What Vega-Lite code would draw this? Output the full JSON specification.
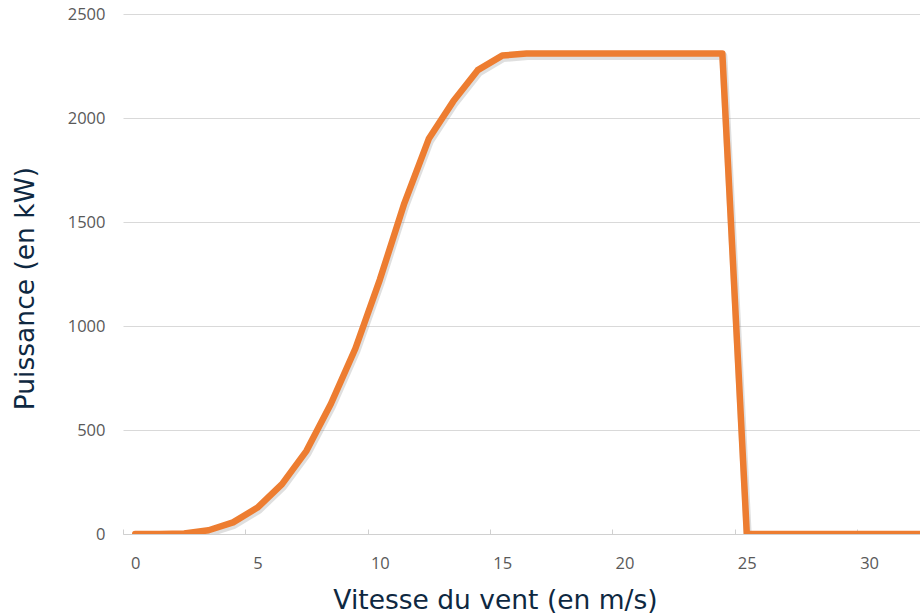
{
  "$schema": "https://vega.github.io/schema/vega-lite/v6.json",
  "width": 797,
  "height": 520,
  "autosize": {"type": "none"},
  "padding": {"left": 123, "top": 14, "right": 0, "bottom": 80},
  "background": "white",
  "config": {"view": {"stroke": null}},
  "data": {
    "values": [
      {"vitesse": 0, "puissance": 0},
      {"vitesse": 1, "puissance": 0},
      {"vitesse": 2, "puissance": 2},
      {"vitesse": 3, "puissance": 18},
      {"vitesse": 4, "puissance": 56},
      {"vitesse": 5, "puissance": 127},
      {"vitesse": 6, "puissance": 240},
      {"vitesse": 7, "puissance": 400},
      {"vitesse": 8, "puissance": 626},
      {"vitesse": 9, "puissance": 892},
      {"vitesse": 10, "puissance": 1223},
      {"vitesse": 11, "puissance": 1590},
      {"vitesse": 12, "puissance": 1900},
      {"vitesse": 13, "puissance": 2080},
      {"vitesse": 14, "puissance": 2230},
      {"vitesse": 15, "puissance": 2300},
      {"vitesse": 16, "puissance": 2310},
      {"vitesse": 17, "puissance": 2310},
      {"vitesse": 18, "puissance": 2310},
      {"vitesse": 19, "puissance": 2310},
      {"vitesse": 20, "puissance": 2310},
      {"vitesse": 21, "puissance": 2310},
      {"vitesse": 22, "puissance": 2310},
      {"vitesse": 23, "puissance": 2310},
      {"vitesse": 24, "puissance": 2310},
      {"vitesse": 25, "puissance": 0},
      {"vitesse": 26, "puissance": 0},
      {"vitesse": 27, "puissance": 0},
      {"vitesse": 28, "puissance": 0},
      {"vitesse": 29, "puissance": 0},
      {"vitesse": 30, "puissance": 0},
      {"vitesse": 31, "puissance": 0},
      {"vitesse": 32, "puissance": 0},
      {"vitesse": 33, "puissance": 0}
    ]
  },
  "encoding": {
    "x": {
      "field": "vitesse",
      "type": "quantitative",
      "scale": {"domain": [-0.5, 32.08], "nice": false, "zero": false},
      "axis": {
        "values": [0, 5, 10, 15, 20, 25, 30],
        "format": "d",
        "title": "Vitesse du vent (en m/s)",
        "grid": false,
        "domainColor": "#d0d0d0",
        "domainWidth": 1,
        "tickColor": "#d0d0d0",
        "tickSize": -5,
        "tickOffset": -12.2,
        "labelOffset": 12.2,
        "labelPadding": 26,
        "labelFont": "Open Sans",
        "labelFontSize": 16.5,
        "labelColor": "#595959",
        "labelFlush": false,
        "titleFont": "DejaVu Sans",
        "titleFontSize": 26.5,
        "titleFontWeight": "normal",
        "titleColor": "#0E2841",
        "titleX": 372,
        "titleY": 74,
        "titleBaseline": "alphabetic",
        "titleAnchor": null,
        "titleAlign": "center"
      }
    },
    "y": {
      "field": "puissance",
      "type": "quantitative",
      "scale": {"domain": [0, 2500], "nice": false},
      "axis": {
        "values": [0, 500, 1000, 1500, 2000, 2500],
        "format": "d",
        "title": "Puissance (en kW)",
        "grid": true,
        "gridColor": "#d9d9d9",
        "gridWidth": 1,
        "domain": false,
        "ticks": false,
        "labelPadding": 18,
        "labelFont": "Open Sans",
        "labelFontSize": 16.5,
        "labelColor": "#595959",
        "titleFont": "DejaVu Sans",
        "titleFontSize": 26.5,
        "titleFontWeight": "normal",
        "titleColor": "#0E2841",
        "titleAngle": -90,
        "titleX": -89.5,
        "titleY": 274,
        "titleBaseline": "alphabetic",
        "titleAlign": "center"
      }
    }
  },
  "layer": [
    {
      "mark": {"type": "line", "clip": true, "color": "#808080", "opacity": 0.25, "strokeWidth": 8, "xOffset": 1, "yOffset": 2.5, "strokeJoin": "round", "strokeCap": "round"}
    },
    {
      "mark": {"type": "line", "clip": true, "color": "#ED7D31", "strokeWidth": 6.5, "strokeJoin": "round", "strokeCap": "round"}
    }
  ]
}
